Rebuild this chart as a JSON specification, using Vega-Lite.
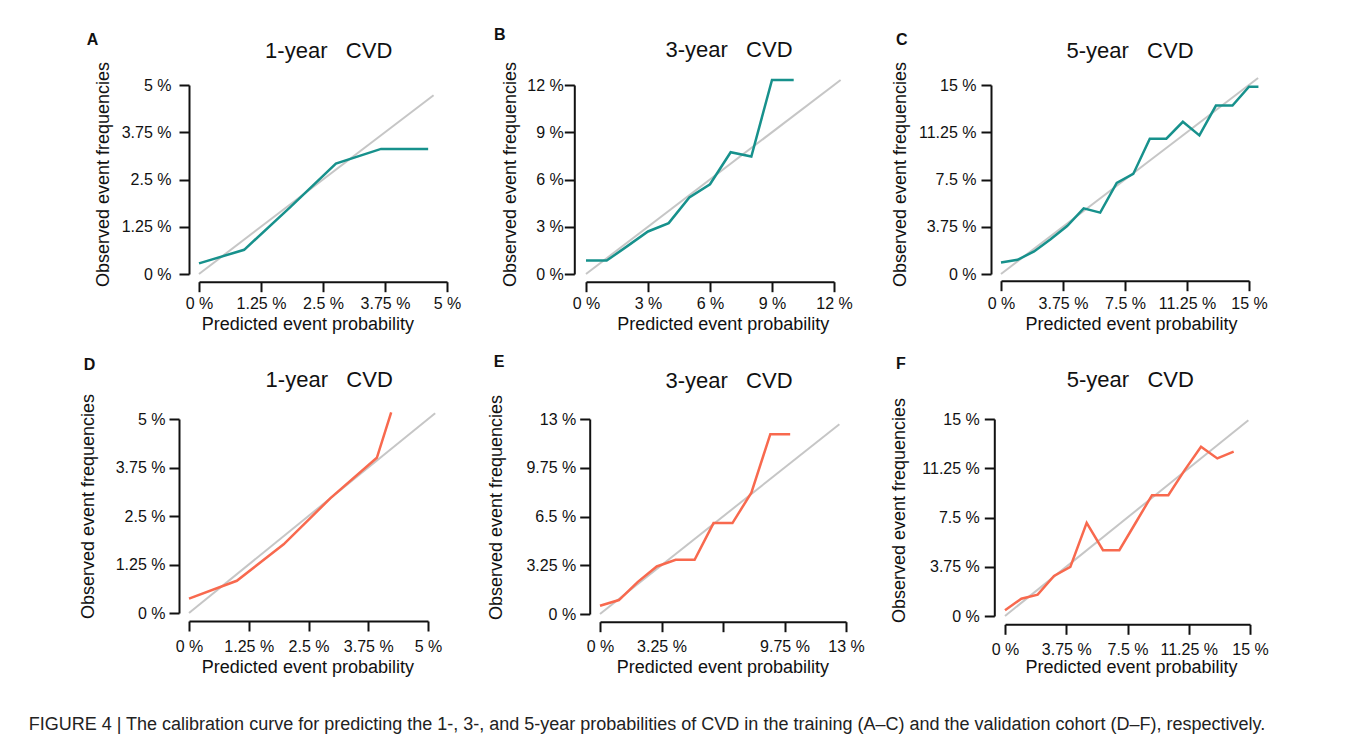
{
  "$schema": "https://vega.github.io/schema/vega-lite/v6.json",
  "background": "white",
  "padding": {"left": 28, "top": 26, "right": 5, "bottom": 5},
  "title": {
    "text": "FIGURE 4 | The calibration curve for predicting the 1-, 3-, and 5-year probabilities of CVD in the training (A–C) and the validation cohort (D–F), respectively.",
    "orient": "bottom", "anchor": "start", "frame": "group", "dx": -30.3, "offset": 40,
    "fontSize": 18, "fontWeight": "normal", "color": "#222222"
  },
  "config": {
    "font": "Liberation Sans",
    "view": {"stroke": null},
    "title": {"font": "Liberation Sans", "fontSize": 16, "fontWeight": "bold", "color": "#111111", "anchor": "start", "frame": "group", "offset": 0},
    "axis": {
      "domainColor": "#111111", "domainWidth": 2, "tickColor": "#111111", "tickWidth": 2, "tickSize": 10,
      "grid": false, "labelFont": "Liberation Sans", "labelFontSize": 16, "labelColor": "#111111",
      "titleFont": "Liberation Sans", "titleFontSize": 18, "titleFontWeight": "normal", "titleColor": "#111111",
      "labelOverlap": false, "labelFlush": false, "labelBound": false, "titleBaseline": "alphabetic"
    }
  },
  "bounds": "full",
  "spacing": 20,
  "vconcat": [
    {
      "bounds": "flush",
      "spacing": 0,
      "hconcat": [
        {"width": 140, "height": 189, "data": {"values": []}, "mark": "point"},
        {
          "width": 248, "height": 189,
          "title": {"text": "A", "dx": -112.3, "offset": -9},
          "resolve": {"axis": {"x": "independent"}},
          "layer": [
            {
              "data": {"values": [{"pred": 0, "obs": 0}, {"pred": 4.73, "obs": 4.73}]},
              "mark": {"type": "line", "color": "#c6c6c6", "strokeWidth": 2},
              "encoding": {
                "x": {"field": "pred", "type": "quantitative", "scale": {"domain": [0, 5], "nice": false},
                      "axis": {"title": "Predicted event probability", "values": [0, 1.25, 2.5, 3.75, 5], "labelExpr": "datum.value + ' %'", "offset": 7.7, "labelPadding": 4, "titleX": 108.4, "titleY": 48}},
                "y": {"field": "obs", "type": "quantitative", "scale": {"domain": [0, 5], "nice": false},
                      "axis": {"title": "Observed event frequencies", "values": [0, 1.25, 2.5, 3.75, 5], "labelExpr": "datum.value + ' %'", "offset": 10, "labelPadding": 8, "titleX": -80.4, "titleY": 89}}
              }
            },
            {
              "data": {"values": [
                {"pred": 0, "obs": 0.28}, {"pred": 0.91, "obs": 0.64}, {"pred": 1.84, "obs": 1.77},
                {"pred": 2.76, "obs": 2.92}, {"pred": 3.67, "obs": 3.31}, {"pred": 4.62, "obs": 3.31}
              ]},
              "mark": {"type": "line", "color": "#17918c", "strokeWidth": 2.5},
              "encoding": {
                "x": {"field": "pred", "type": "quantitative",
                      "axis": {"orient": "top", "title": "1-year\u00a0\u00a0\u00a0CVD", "domain": false, "ticks": false, "labels": false, "titleFontSize": 22, "titleColor": "#111111", "titleX": 129.2, "titleY": -27.7}},
                "y": {"field": "obs", "type": "quantitative"}
              }
            }
          ]
        },
        {"width": 139, "height": 189, "data": {"values": []}, "mark": "point"},
        {
          "width": 248, "height": 189,
          "title": {"text": "B", "dx": -92, "offset": -4},
          "resolve": {"axis": {"x": "independent"}},
          "layer": [
            {
              "data": {"values": [{"pred": 0, "obs": 0}, {"pred": 12.32, "obs": 12.32}]},
              "mark": {"type": "line", "color": "#c6c6c6", "strokeWidth": 2},
              "encoding": {
                "x": {"field": "pred", "type": "quantitative", "scale": {"domain": [0, 12], "nice": false},
                      "axis": {"title": "Predicted event probability", "values": [0, 3, 6, 9, 12], "labelExpr": "datum.value + ' %'", "offset": 7.7, "labelPadding": 4, "titleX": 136.7, "titleY": 48}},
                "y": {"field": "obs", "type": "quantitative", "scale": {"domain": [0, 12], "nice": false},
                      "axis": {"title": "Observed event frequencies", "values": [0, 3, 6, 9, 12], "labelExpr": "datum.value + ' %'", "offset": 11.7, "labelPadding": 1, "titleX": -59.1, "titleY": 89}}
              }
            },
            {
              "data": {"values": [
                {"pred": 0, "obs": 0.85}, {"pred": 1, "obs": 0.85}, {"pred": 2, "obs": 1.77}, {"pred": 3, "obs": 2.7},
                {"pred": 4, "obs": 3.23}, {"pred": 5, "obs": 4.86}, {"pred": 6, "obs": 5.7}, {"pred": 7, "obs": 7.73},
                {"pred": 8, "obs": 7.46}, {"pred": 9, "obs": 12.32}, {"pred": 10.05, "obs": 12.32}
              ]},
              "mark": {"type": "line", "color": "#17918c", "strokeWidth": 2.5},
              "encoding": {
                "x": {"field": "pred", "type": "quantitative",
                      "axis": {"orient": "top", "title": "3-year\u00a0\u00a0\u00a0CVD", "domain": false, "ticks": false, "labels": false, "titleFontSize": 22, "titleColor": "#111111", "titleX": 142.5, "titleY": -28.3}},
                "y": {"field": "obs", "type": "quantitative"}
              }
            }
          ]
        },
        {"width": 167, "height": 189, "data": {"values": []}, "mark": "point"},
        {
          "width": 248, "height": 189,
          "title": {"text": "C", "dx": -105, "offset": -9},
          "resolve": {"axis": {"x": "independent"}},
          "layer": [
            {
              "data": {"values": [{"pred": 0, "obs": 0}, {"pred": 15.55, "obs": 15.55}]},
              "mark": {"type": "line", "color": "#c6c6c6", "strokeWidth": 2},
              "encoding": {
                "x": {"field": "pred", "type": "quantitative", "scale": {"domain": [0, 15], "nice": false},
                      "axis": {"title": "Predicted event probability", "values": [0, 3.75, 7.5, 11.25, 15], "labelExpr": "datum.value + ' %'", "offset": 6.7, "labelPadding": 5, "titleX": 130, "titleY": 49}},
                "y": {"field": "obs", "type": "quantitative", "scale": {"domain": [0, 15], "nice": false},
                      "axis": {"title": "Observed event frequencies", "values": [0, 3.75, 7.5, 11.25, 15], "labelExpr": "datum.value + ' %'", "offset": 10, "labelPadding": 5, "titleX": -85.8, "titleY": 89}}
              }
            },
            {
              "data": {"values": [
                {"pred": 0, "obs": 0.92}, {"pred": 1, "obs": 1.13}, {"pred": 2, "obs": 1.79}, {"pred": 3, "obs": 2.76},
                {"pred": 4, "obs": 3.81}, {"pred": 5, "obs": 5.21}, {"pred": 6, "obs": 4.87}, {"pred": 7, "obs": 7.23},
                {"pred": 8, "obs": 7.94}, {"pred": 9, "obs": 10.74}, {"pred": 10, "obs": 10.74}, {"pred": 11, "obs": 12.08},
                {"pred": 12, "obs": 11.0}, {"pred": 13, "obs": 13.37}, {"pred": 14, "obs": 13.37}, {"pred": 15, "obs": 14.87},
                {"pred": 15.57, "obs": 14.87}
              ]},
              "mark": {"type": "line", "color": "#17918c", "strokeWidth": 2.5},
              "encoding": {
                "x": {"field": "pred", "type": "quantitative",
                      "axis": {"orient": "top", "title": "5-year\u00a0\u00a0\u00a0CVD", "domain": false, "ticks": false, "labels": false, "titleFontSize": 22, "titleColor": "#111111", "titleX": 128.5, "titleY": -27.7}},
                "y": {"field": "obs", "type": "quantitative"}
              }
            }
          ]
        }
      ]
    },
    {
      "bounds": "flush",
      "spacing": 0,
      "hconcat": [
        {"width": 130, "height": 197, "data": {"values": []}, "mark": "point"},
        {
          "width": 239, "height": 194,
          "title": {"text": "D", "dx": -105.3, "offset": -5},
          "resolve": {"axis": {"x": "independent"}},
          "layer": [
            {
              "data": {"values": [{"pred": 0, "obs": 0}, {"pred": 5.15, "obs": 5.15}]},
              "mark": {"type": "line", "color": "#c6c6c6", "strokeWidth": 2},
              "encoding": {
                "x": {"field": "pred", "type": "quantitative", "scale": {"domain": [0, 5], "nice": false},
                      "axis": {"title": "Predicted event probability", "values": [0, 1.25, 2.5, 3.75, 5], "labelExpr": "datum.value + ' %'", "offset": 8, "labelPadding": 7.4, "titleX": 118.4, "titleY": 51}},
                "y": {"field": "obs", "type": "quantitative", "scale": {"domain": [0, 5], "nice": false},
                      "axis": {"title": "Observed event frequencies", "values": [0, 1.25, 2.5, 3.75, 5], "labelExpr": "datum.value + ' %'", "offset": 10, "labelPadding": 4, "titleX": -85.1, "titleY": 87}}
              }
            },
            {
              "data": {"values": [
                {"pred": 0, "obs": 0.37}, {"pred": 1.0, "obs": 0.83}, {"pred": 1.98, "obs": 1.77},
                {"pred": 2.96, "obs": 2.96}, {"pred": 3.93, "obs": 4.0}, {"pred": 4.23, "obs": 5.17}
              ]},
              "mark": {"type": "line", "color": "#f8694e", "strokeWidth": 2.5},
              "encoding": {
                "x": {"field": "pred", "type": "quantitative",
                      "axis": {"orient": "top", "title": "1-year\u00a0\u00a0\u00a0CVD", "domain": false, "ticks": false, "labels": false, "titleFontSize": 22, "titleColor": "#111111", "titleX": 139.7, "titleY": -33}},
                "y": {"field": "obs", "type": "quantitative"}
              }
            }
          ]
        },
        {"width": 172, "height": 197, "data": {"values": []}, "mark": "point"},
        {
          "width": 246, "height": 195,
          "title": {"text": "E", "dx": -106.3, "offset": -1},
          "resolve": {"axis": {"x": "independent"}},
          "layer": [
            {
              "data": {"values": [{"pred": 0, "obs": 0}, {"pred": 12.65, "obs": 12.65}]},
              "mark": {"type": "line", "color": "#c6c6c6", "strokeWidth": 2},
              "encoding": {
                "x": {"field": "pred", "type": "quantitative", "scale": {"domain": [0, 13], "nice": false},
                      "axis": {"title": "Predicted event probability", "values": [0, 3.25, 6.5, 9.75, 13], "labelExpr": "datum.value == 6.5 ? '' : datum.value + ' %'", "offset": 7.7, "labelPadding": 6.7, "titleX": 122.4, "titleY": 50.5}},
                "y": {"field": "obs", "type": "quantitative", "scale": {"domain": [0, 13], "nice": false},
                      "axis": {"title": "Observed event frequencies", "values": [0, 3.25, 6.5, 9.75, 13], "labelExpr": "datum.value + ' %'", "offset": 10.3, "labelPadding": 4, "titleX": -87.8, "titleY": 88}}
              }
            },
            {
              "data": {"values": [
                {"pred": 0, "obs": 0.55}, {"pred": 1, "obs": 0.93}, {"pred": 2, "obs": 2.14}, {"pred": 3, "obs": 3.17},
                {"pred": 4, "obs": 3.61}, {"pred": 5, "obs": 3.61}, {"pred": 6, "obs": 6.06}, {"pred": 7, "obs": 6.06},
                {"pred": 8, "obs": 8.09}, {"pred": 9, "obs": 11.99}, {"pred": 10.05, "obs": 11.99}
              ]},
              "mark": {"type": "line", "color": "#f8694e", "strokeWidth": 2.5},
              "encoding": {
                "x": {"field": "pred", "type": "quantitative",
                      "axis": {"orient": "top", "title": "3-year\u00a0\u00a0\u00a0CVD", "domain": false, "ticks": false, "labels": false, "titleFontSize": 22, "titleColor": "#111111", "titleX": 128.5, "titleY": -32}},
                "y": {"field": "obs", "type": "quantitative"}
              }
            }
          ]
        },
        {"width": 159, "height": 197, "data": {"values": []}, "mark": "point"},
        {
          "width": 245, "height": 197,
          "title": {"text": "F", "dx": -109, "offset": -3},
          "resolve": {"axis": {"x": "independent"}},
          "layer": [
            {
              "data": {"values": [{"pred": 0, "obs": 0}, {"pred": 14.9, "obs": 14.9}]},
              "mark": {"type": "line", "color": "#c6c6c6", "strokeWidth": 2},
              "encoding": {
                "x": {"field": "pred", "type": "quantitative", "scale": {"domain": [0, 15], "nice": false},
                      "axis": {"title": "Predicted event probability", "values": [0, 3.75, 7.5, 11.25, 15], "labelExpr": "datum.value + ' %'", "offset": 8.3, "labelPadding": 7.4, "titleX": 126, "titleY": 48}},
                "y": {"field": "obs", "type": "quantitative", "scale": {"domain": [0, 15], "nice": false},
                      "axis": {"title": "Observed event frequencies", "values": [0, 3.75, 7.5, 11.25, 15], "labelExpr": "datum.value + ' %'", "offset": 10.7, "labelPadding": 5, "titleX": -90.1, "titleY": 91}}
              }
            },
            {
              "data": {"values": [
                {"pred": 0, "obs": 0.43}, {"pred": 1, "obs": 1.32}, {"pred": 2, "obs": 1.63}, {"pred": 3, "obs": 3.05},
                {"pred": 4, "obs": 3.74}, {"pred": 5, "obs": 7.09}, {"pred": 6, "obs": 5.01}, {"pred": 7, "obs": 5.01},
                {"pred": 8, "obs": 7.1}, {"pred": 9, "obs": 9.2}, {"pred": 10, "obs": 9.2}, {"pred": 11, "obs": 11.11},
                {"pred": 12, "obs": 12.89}, {"pred": 13, "obs": 12.0}, {"pred": 14, "obs": 12.51}
              ]},
              "mark": {"type": "line", "color": "#f8694e", "strokeWidth": 2.5},
              "encoding": {
                "x": {"field": "pred", "type": "quantitative",
                      "axis": {"orient": "top", "title": "5-year\u00a0\u00a0\u00a0CVD", "domain": false, "ticks": false, "labels": false, "titleFontSize": 22, "titleColor": "#111111", "titleX": 124.8, "titleY": -32.3}},
                "y": {"field": "obs", "type": "quantitative"}
              }
            }
          ]
        }
      ]
    }
  ]
}
